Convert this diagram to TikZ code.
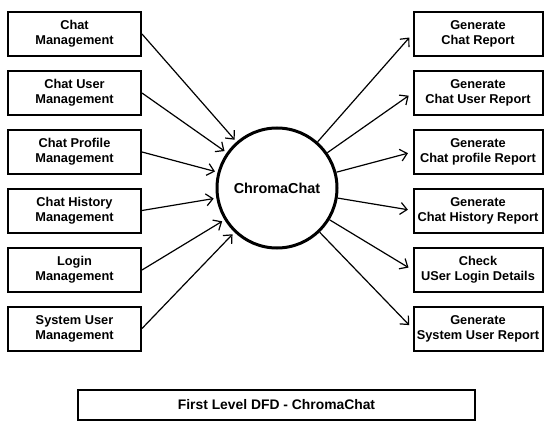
\documentclass[tikz,border=0pt]{standalone}
\usepackage{fontspec}
\setmainfont{Liberation Sans}
\usetikzlibrary{arrows.meta}

\tikzset{
  procbox/.style={draw=black, line width=1.5pt, rectangle, minimum height=33pt,
    inner sep=0pt, align=center, font=\bfseries\fontsize{9.6}{11.25}\selectfont},
  inbox/.style={procbox, minimum width=99.75pt},
  outbox/.style={procbox, minimum width=96.75pt},
  hubnode/.style={draw=black, line width=2.25pt, circle, minimum size=90pt,
    inner sep=0pt, font=\bfseries\fontsize{10.8}{13}\selectfont},
  flow/.style={black, line width=0.9pt, -{Straight Barb[length=5pt,width=9pt,line width=0.9pt]}}
}

\begin{document}
\begin{tikzpicture}[x=0.75pt, y=-0.75pt]
        \useasboundingbox (0,0) rectangle (544,421);

        \node[hubnode] (hub) at (277,188) {ChromaChat};

        \node[inbox] (chatmgmt) at (74.5,34) {Chat\\Management};
        \node[inbox] (usermgmt) at (74.5,93) {Chat User\\Management};
        \node[inbox] (profmgmt) at (74.5,152) {Chat Profile\\Management};
        \node[inbox] (histmgmt) at (74.5,210.5) {Chat History\\Management};
        \node[inbox] (loginmgmt) at (74.5,270) {Login\\Management};
        \node[inbox] (sysmgmt) at (74.5,328.5) {System User\\Management};

        \node[outbox] (chatrep) at (478,34) {Generate\\Chat Report};
        \node[outbox] (userrep) at (478,93) {Generate\\Chat User Report};
        \node[outbox] (profrep) at (478,152) {Generate\\Chat profile Report};
        \node[outbox] (histrep) at (478,210.5) {Generate\\Chat History Report};
        \node[outbox] (logincheck) at (478,270) {Check\\USer Login Details};
        \node[outbox] (sysrep) at (478,328.5) {Generate\\System User Report};

        % inputs to the process
        \draw[flow, shorten >=2pt] (chatmgmt.east) -- (hub);
        \draw[flow, shorten >=2pt] (usermgmt.east) -- (hub);
        \draw[flow, shorten >=2pt] (profmgmt.east) -- (hub);
        \draw[flow, shorten >=2pt] (histmgmt.east) -- (hub);
        \draw[flow, shorten >=2pt] (loginmgmt.east) -- (hub);
        \draw[flow, shorten >=2pt] (sysmgmt.east) -- (hub);

        % reports out of the process
        \draw[flow, shorten >=3.5pt] (hub) -- (chatrep.west);
        \draw[flow, shorten >=3.5pt] (hub) -- (userrep.west);
        \draw[flow, shorten >=3.5pt] (hub) -- (profrep.west);
        \draw[flow, shorten >=3.5pt] (hub) -- (histrep.west);
        \draw[flow, shorten >=3.5pt] (hub) -- (logincheck.west);
        \draw[flow, shorten >=3.5pt] (hub) -- (sysrep.west);

        \node[procbox, minimum width=297.75pt, minimum height=22.5pt,
          font=\bfseries\fontsize{10.4}{12.5}\selectfont] (title) at (276.5,404.5)
          {First Level DFD - ChromaChat};
      \end{tikzpicture}
\end{document}
